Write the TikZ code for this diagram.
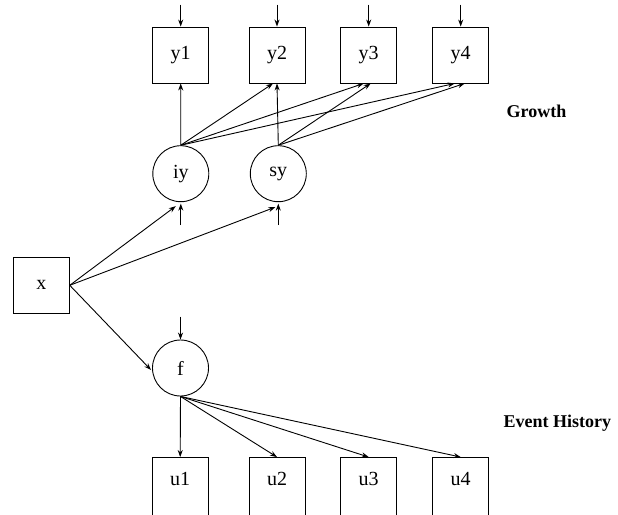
\documentclass[tikz,border=0pt]{standalone}
\usepackage{fontspec}
\setmainfont{Liberation Serif}
\usetikzlibrary{arrows.meta}
\begin{document}
\begin{tikzpicture}[x=1pt,y=-1pt,
  obs/.style={draw,line width=0.9pt,minimum size=56pt,inner sep=0pt,font=\fontsize{20}{20}\selectfont},
  obscut/.style={obs,minimum height=64pt},
  lat/.style={draw,circle,line width=0.9pt,minimum size=56pt,inner sep=0pt,font=\fontsize{20}{20}\selectfont},
  arr/.style={line width=0.9pt,-{Stealth[length=7pt,width=5pt]}},
  lbl/.style={font=\bfseries\fontsize{18}{18}\selectfont}]
\useasboundingbox (0,0) rectangle (618,514);
\clip (0,0) rectangle (618,514);
% observed growth
\node[obs] (y1) at (180.7,55) {y1};
\node[obs] (y2) at (277,55) {y2};
\node[obs] (y3) at (368.7,55) {y3};
\node[obs] (y4) at (460.7,55) {y4};
% latent
\node[lat] (iy) at (180.8,173.7) {iy};
\node[lat] (sy) at (278.3,173.7) {sy};
\node[obs] (x) at (41.3,285.3) {x};
\node[lat] (f) at (180.5,368) {f};
% event history (bottom edge cut off by the page)
\node[obscut] (u1) at (180.2,489.5) {\raisebox{0pt}[0pt][0pt]{\raisebox{4pt}{u1}}};
\node[obscut] (u2) at (277,489.5) {\raisebox{0pt}[0pt][0pt]{\raisebox{4pt}{u2}}};
\node[obscut] (u3) at (368.7,489.5) {\raisebox{0pt}[0pt][0pt]{\raisebox{4pt}{u3}}};
\node[obscut] (u4) at (460.7,489.5) {\raisebox{0pt}[0pt][0pt]{\raisebox{4pt}{u4}}};
% labels
\node[lbl,anchor=west,inner sep=0pt] (g) at (506.5,111.5) {Growth};
\node[lbl,anchor=west,inner sep=0pt] (e) at (503.5,423) {Event History};
% residual arrows
\foreach \n in {y1,y2,y3,y4}{
  \coordinate (r\n) at ([yshift=22pt]\n.north);
  \draw[arr] (r\n) -- (\n.north);
}
\coordinate (riy) at ([yshift=-23pt]iy.south);
\coordinate (rsy) at ([yshift=-23pt]sy.south);
\draw[arr] (riy) -- ([yshift=-1.5pt]iy.south);
\draw[arr] (rsy) -- ([yshift=-1.5pt]sy.south);
\coordinate (rf) at ([yshift=23pt]f.north);
\draw[arr] (rf) -- (f.north);
% growth loadings
\draw[arr] (iy.north) -- (y1.south);
\draw[arr] (iy.north) -- ([xshift=-4pt]y2.south);
\draw[arr] (iy.north) -- ([xshift=-5pt]y3.south);
\draw[arr] (iy.north) -- ([xshift=-6pt]y4.south);
\draw[arr] (sy.north) -- (y2.south);
\draw[arr] (sy.north) -- ([xshift=2pt]y3.south);
\draw[arr] (sy.north) -- ([xshift=4pt]y4.south);
% x effects
\draw[arr] (x.east) -- ([xshift=-5pt,yshift=-4pt]iy.south);
\draw[arr] (x.east) -- ([xshift=-3pt,yshift=-5pt]sy.south);
\draw[arr] (x.east) -- ([xshift=-1pt,yshift=-2pt]f.west);
% event history loadings
\draw[arr] (f.south) -- (u1.north);
\draw[arr] (f.south) -- (u2.north);
\draw[arr] (f.south) -- (u3.north);
\draw[arr] (f.south) -- (u4.north);
\end{tikzpicture}
\end{document}
